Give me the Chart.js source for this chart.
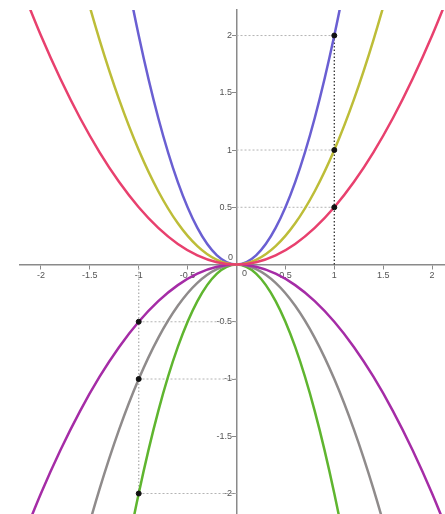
<!DOCTYPE html>
<html>
<head>
<meta charset="utf-8">
<script src="https://cdn.jsdelivr.net/npm/chart.js@4"></script>
<style>
  body { margin: 0; background: #fff; }
  canvas { display: block; }
</style>
</head>
<body>
<canvas id="parabolas" width="445" height="514"></canvas>
<script>
const xs = [-2.2, -2.0, -1.8, -1.6, -1.4, -1.2, -1.0, -0.8, -0.6, -0.4, -0.2, 0, 0.2, 0.4, 0.6, 0.8, 1.0, 1.2, 1.4, 1.6, 1.8, 2.0, 2.2];

const halfUp   = [2.42, 2, 1.62, 1.28, 0.98, 0.72, 0.5, 0.32, 0.18, 0.08, 0.02, 0, 0.02, 0.08, 0.18, 0.32, 0.5, 0.72, 0.98, 1.28, 1.62, 2, 2.42];
const oneUp    = [4.84, 4, 3.24, 2.56, 1.96, 1.44, 1, 0.64, 0.36, 0.16, 0.04, 0, 0.04, 0.16, 0.36, 0.64, 1, 1.44, 1.96, 2.56, 3.24, 4, 4.84];
const twoUp    = [9.68, 8, 6.48, 5.12, 3.92, 2.88, 2, 1.28, 0.72, 0.32, 0.08, 0, 0.08, 0.32, 0.72, 1.28, 2, 2.88, 3.92, 5.12, 6.48, 8, 9.68];
const halfDown = [-2.42, -2, -1.62, -1.28, -0.98, -0.72, -0.5, -0.32, -0.18, -0.08, -0.02, 0, -0.02, -0.08, -0.18, -0.32, -0.5, -0.72, -0.98, -1.28, -1.62, -2, -2.42];
const oneDown  = [-4.84, -4, -3.24, -2.56, -1.96, -1.44, -1, -0.64, -0.36, -0.16, -0.04, 0, -0.04, -0.16, -0.36, -0.64, -1, -1.44, -1.96, -2.56, -3.24, -4, -4.84];
const twoDown  = [-9.68, -8, -6.48, -5.12, -3.92, -2.88, -2, -1.28, -0.72, -0.32, -0.08, 0, -0.08, -0.32, -0.72, -1.28, -2, -2.88, -3.92, -5.12, -6.48, -8, -9.68];

// marked points at x = 1 and x = -1
const markX = [1, 1, 1, -1, -1, -1];
const markY = [2, 1, 0.5, -0.5, -1, -2];

const xTicks = [-2, -1.5, -1, -0.5, 0.5, 1, 1.5, 2];
const yTicks = [-2, -1.5, -1, -0.5, 0.5, 1, 1.5, 2];

const FONT = '"Liberation Sans", Arial, sans-serif';

const curve = (ys, color) => ({
  data: xs.map((x, i) => ({ x: x, y: ys[i] })),
  borderColor: color,
  borderWidth: 2.5,
  pointRadius: 0,
  cubicInterpolationMode: 'monotone',
  showLine: true,
  order: 2
});

const guides = [];
markX.forEach((mx, i) => {
  guides.push({
    data: [{ x: 0, y: markY[i] }, { x: mx, y: markY[i] }],
    borderColor: '#b4b4b4',
    borderWidth: 1,
    borderDash: [2, 2],
    pointRadius: 0,
    showLine: true,
    order: 3
  });
});
guides.push({
  data: [{ x: 1, y: 0 }, { x: 1, y: Math.max(...markY) }],
  borderColor: '#333',
  borderWidth: 1.3,
  borderDash: [1.5, 2],
  pointRadius: 0,
  showLine: true,
  order: 3
});
guides.push({
  data: [{ x: -1, y: 0 }, { x: -1, y: Math.min(...markY) }],
  borderColor: '#b0b0b0',
  borderWidth: 1.3,
  borderDash: [1.5, 2],
  pointRadius: 0,
  showLine: true,
  order: 3
});

const marks = {
  data: markX.map((x, i) => ({ x: x, y: markY[i] })),
  backgroundColor: '#111',
  borderColor: '#111',
  pointRadius: 2.5,
  showLine: false,
  order: 1
};

const originLabels = {
  id: 'originLabels',
  afterDraw(chart) {
    const { ctx, scales: { x, y } } = chart;
    const x0 = x.getPixelForValue(0);
    const y0 = y.getPixelForValue(0);
    ctx.save();
    ctx.font = '9px ' + FONT;
    ctx.fillStyle = '#555';
    ctx.textAlign = 'center';
    ctx.textBaseline = 'middle';
    ctx.fillText('0', x0 + 8, y0 + 9);
    ctx.fillText('0', x0 - 6, y0 - 7);
    ctx.restore();
  }
};

// centred axes should not shrink the plot area
const noPad = s => { s.paddingLeft = 0; s.paddingRight = 0; s.paddingTop = 0; s.paddingBottom = 0; };

new Chart(document.getElementById('parabolas'), {
  type: 'scatter',
  data: {
    datasets: [
      marks,
      curve(halfUp, '#e8406e'),
      curve(oneUp, '#bdbd38'),
      curve(twoUp, '#6a5fd2'),
      curve(halfDown, '#a52ca6'),
      curve(oneDown, '#8f8b8b'),
      curve(twoDown, '#5fb52f'),
      ...guides
    ]
  },
  options: {
    responsive: false,
    devicePixelRatio: 1,
    animation: false,
    layout: { autoPadding: false, padding: { left: 20, top: 10, right: 0, bottom: 0 } },
    plugins: { legend: { display: false }, tooltip: { enabled: false } },
    scales: {
      x: {
        type: 'linear',
        min: -2.214,
        max: 2.132,
        position: { y: 0 },
        afterBuildTicks: s => { s.ticks = xTicks.map(v => ({ value: v })); },
        afterFit: noPad,
        grid: { drawOnChartArea: false, tickLength: 4, color: '#8a8a8a' },
        border: { color: '#8a8a8a', width: 1.5 },
        ticks: {
          font: { size: 9, family: FONT },
          color: '#555',
          padding: 2,
          maxRotation: 0,
          autoSkip: false,
          callback: v => String(v)
        }
      },
      y: {
        type: 'linear',
        min: -2.179,
        max: 2.223,
        position: { x: 0 },
        afterBuildTicks: s => { s.ticks = yTicks.map(v => ({ value: v })); },
        afterFit: noPad,
        grid: { drawOnChartArea: false, tickLength: 4, color: '#8a8a8a' },
        border: { color: '#8a8a8a', width: 1.5 },
        ticks: {
          font: { size: 9, family: FONT },
          color: '#555',
          padding: 1,
          autoSkip: false,
          // labels sit flush with the axis otherwise
          callback: v => String(v) + '\u2002'
        }
      }
    }
  },
  plugins: [originLabels]
});
</script>
</body>
</html>
